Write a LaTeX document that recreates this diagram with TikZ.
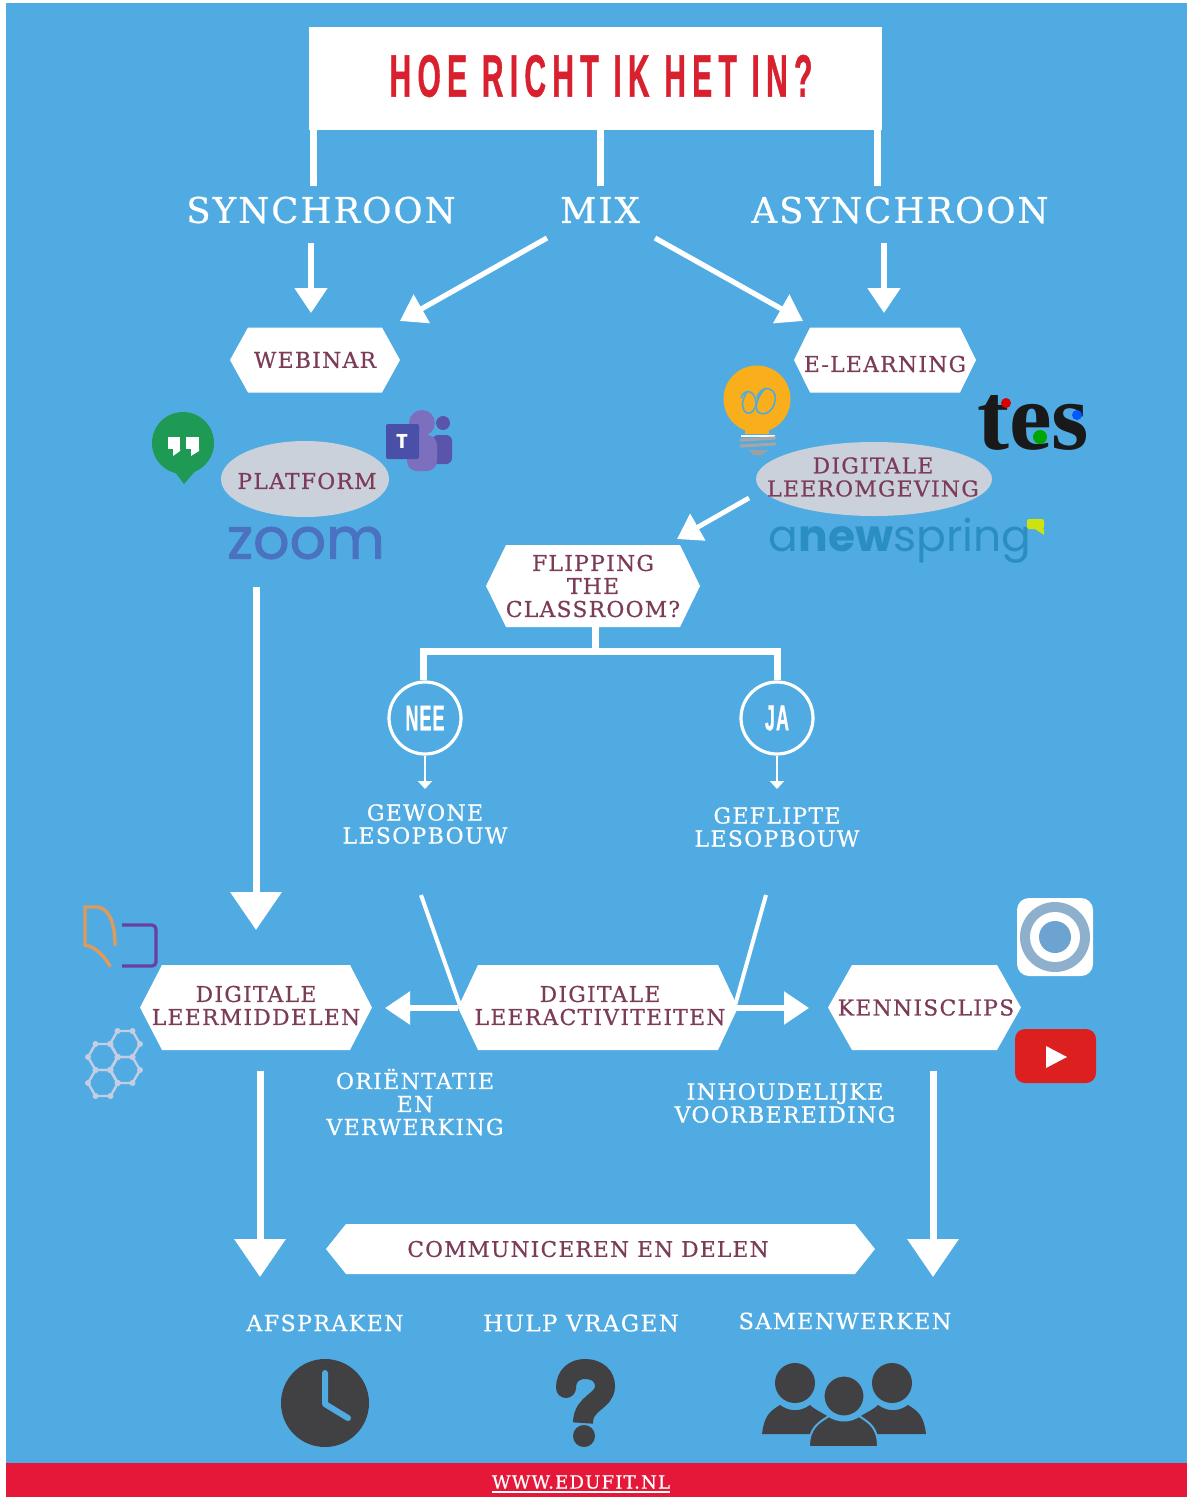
\documentclass[tikz,border=0pt]{standalone}
\usepackage{fontspec}
\usetikzlibrary{arrows.meta,calc}
\newfontfamily\slabf[LetterSpace=6,FakeBold=0.6]{DejaVu Serif}
\newfontfamily\condf[FakeStretch=0.5,LetterSpace=10.5,FakeBold=0.6]{Liberation Sans}
\newfontfamily\ringf[FakeStretch=0.5,LetterSpace=3,FakeBold=0.6]{Liberation Sans}
\newfontfamily\logof{Poppins}
\newfontfamily\zoomf[FakeBold=1.5]{Poppins}
\newfontfamily\tesf{Liberation Serif}
\definecolor{skyback}{HTML}{50ABE2}
\definecolor{redband}{HTML}{E5183A}
\definecolor{titlered}{HTML}{D8202F}
\definecolor{maroon}{HTML}{7C3B57}
\definecolor{ovalgrey}{HTML}{CBD1DB}
\definecolor{darkicon}{HTML}{414042}
\definecolor{hangout}{HTML}{1E9A55}
\definecolor{teamsA}{HTML}{4A4FA8}
\definecolor{teamsB}{HTML}{7B6FBE}
\definecolor{teamsC}{HTML}{5A55AB}
\definecolor{zoomblue}{HTML}{4A72C0}
\definecolor{nsblue}{HTML}{2A8FC0}
\definecolor{bulb}{HTML}{F9AE1B}
\definecolor{bookor}{HTML}{E09A5A}
\definecolor{bookpu}{HTML}{6A3FA0}
\definecolor{molec}{HTML}{C5CDE3}
\definecolor{irisring}{HTML}{8FB0CC}
\definecolor{irisdot}{HTML}{6CA3D0}
\definecolor{ytred}{HTML}{DC1F1F}
\newcommand{\slabsize}[2]{\slabf\fontsize{#1}{#2}\selectfont}
% name, cx, cy, half width, half height, inset, text, text dx, text dy
\newcommand{\hexbox}[9]{%
  \fill[white] (#2-#4,#3) -- (#2-#4+#6,#3-#5) -- (#2+#4-#6,#3-#5) -- (#2+#4,#3) -- (#2+#4-#6,#3+#5) -- (#2-#4+#6,#3+#5) -- cycle;
  \node[hextext] (#1) at (#2+#8,#3+#9) {#7};}
\newcommand{\molhex}[2]{%
  \draw[molec,line width=1.2pt] (#1-15,#2) -- (#1-7.5,#2-13) -- (#1+7.5,#2-13) -- (#1+15,#2) -- (#1+7.5,#2+13) -- (#1-7.5,#2+13) -- cycle;
  \foreach \mx/\my in {-15/0,-7.5/-13,7.5/-13,15/0,7.5/13,-7.5/13}{\fill[molec] (#1+\mx,#2+\my) circle [radius=3];}}
\tikzset{
  x=0.5pt,y=-0.5pt,
  hextext/.style={inner sep=0pt,align=center,text=maroon,font=\slabsize{10.9}{11.5}},
  bigtext/.style={inner sep=0pt,align=center,text=white,font=\slabsize{17.7}{20}},
  midtext/.style={inner sep=0pt,align=center,text=white,font=\slabsize{11}{11.5}},
  plainline/.style={draw=white,line width=3.5pt},
  thinline/.style={draw=white,line width=2pt},
  arrM/.style={draw=white,line width=2.6pt,-{Triangle[width=16pt,length=12.5pt,fill=white]}},
  arrL/.style={draw=white,line width=3.5pt,-{Triangle[width=25pt,length=19pt,fill=white]}},
  arrS/.style={draw=white,line width=1.3pt,-{Triangle[width=7pt,length=4pt,fill=white]}},
  ringnode/.style={circle,draw=white,line width=1.6pt,minimum size=36pt,inner sep=0pt,text=white,font=\ringf\bfseries\fontsize{18}{18}\selectfont},
}
\begin{document}
\begin{tikzpicture}
\useasboundingbox (0,0) rectangle (1187,1499);
\fill[white] (0,0) rectangle (1187,1499);
\fill[skyback] (6,3) rectangle (1187,1497);
\fill[redband] (6,1463) rectangle (1187,1497);

% title and first level
\node[fill=white,minimum width=286.5pt,minimum height=51.5pt,inner sep=0pt] (title) at (595.5,78.5) {};
\node[inner sep=0pt,text=titlered,font=\condf\bfseries\fontsize{30}{32}\selectfont] (titletext) at (601,76) {HOE RICHT IK HET IN?};
\node[bigtext] (syn) at (321,210) {SYNCHROON};
\node[bigtext] (mix) at (600,210) {MIX};
\node[bigtext] (asyn) at (900,210) {ASYNCHROON};
\draw[plainline] ($(title)+(-282.5,51)$) -- ($(syn)+(-8,-24)$);
\draw[plainline] ($(title)+(4.5,51)$) -- ($(mix)+(0,-24)$);
\draw[plainline] ($(title)+(281.5,51)$) -- ($(asyn)+(-23,-24)$);

\hexbox{web}{315}{360}{85}{32.5}{18}{WEBINAR}{0}{0}
\hexbox{elearn}{885}{360}{91}{32.5}{16}{E-LEARNING}{0}{4}
\draw[arrM] ($(syn)+(-10,33)$) -- ($(web)+(-4,-47)$);
\draw[arrM] ($(asyn)+(-16,33)$) -- ($(elearn)+(-1,-51)$);
\draw[arrM] ($(mix)+(-53,28)$) -- ($(web)+(85,-39)$);
\draw[arrM] ($(mix)+(55,28)$) -- ($(elearn)+(-82,-43)$);

% platform oval
\fill[ovalgrey] (305,479) ellipse [x radius=84,y radius=38];
\node[hextext] (platform) at (307,481) {PLATFORM};
% hangouts logo
\fill[hangout] (183,443) circle [radius=31];
\fill[hangout] (172,468) -- (198,468) -- (184,484) -- cycle;
\fill[white] (168,437) rectangle (180,449);
\fill[white] (173,449) -- (180,449) -- (180,451) -- (173,456) -- cycle;
\fill[white] (186,437) rectangle (199,449);
\fill[white] (191,449) -- (199,449) -- (199,451) -- (191,456) -- cycle;
% teams logo
\fill[teamsB] (422,423) circle [radius=13];
\fill[teamsC] (443,423) circle [radius=7];
\fill[teamsC,rounded corners=3pt] (432,435) rectangle (452,464);
\fill[teamsB,rounded corners=5pt] (407,435) rectangle (437,471);
\fill[teamsA,rounded corners=1pt] (386,424) rectangle (419,459);
\node[inner sep=0pt,text=white,font=\logof\bfseries\fontsize{10}{10}\selectfont] (teamsT) at (402,441) {T};
% zoom logo
\node[inner sep=0pt,text=zoomblue,font=\zoomf\fontsize{28.5}{29}\selectfont] (zoomlogo) at (306,543) {zoom};

% digitale leeromgeving oval
\fill[ovalgrey] (874,479) ellipse [x radius=118,y radius=37];
\node[hextext] (dlo) at (873,477) {DIGITALE\\LEEROMGEVING};
% bulb logo
\fill[bulb] (757,399) circle [radius=33.5];
\fill[bulb] (745,428) rectangle (769,434);
\draw[white,line width=1pt] (741,436) -- (775,436);
\draw[gray!70,line width=1.6pt,line cap=round] (741,440) -- (775,438);
\draw[gray!70,line width=1.6pt,line cap=round] (741,446) -- (775,444);
\fill[gray!75] (748,450) -- (768,450) -- (762,455) -- (754,455) -- cycle;
\draw[skyback,line width=0.8pt] (741,398) .. controls (744,388) and (755,390) .. (756,402) .. controls (757,412) and (746,418) .. (743,408) .. controls (741,402) and (745,394) .. (748,391);
\draw[skyback,line width=0.8pt] (757,398) .. controls (760,386) and (772,386) .. (775,395) .. controls (777,408) and (766,418) .. (758,412) .. controls (753,407) and (760,392) .. (766,388);
% tes logo
\node[inner sep=0pt,text=black!90,font=\tesf\bfseries\fontsize{48}{48}\selectfont] (teslogo) at (1033,423) {tes};
\fill[red!85!black] (1006,403) circle [radius=5];
\fill[blue!65!cyan] (1077,415) circle [radius=5];
\fill[green!65!black] (1040,437) circle [radius=7];
% newspring logo
\node[inner sep=0pt,text=nsblue,font=\logof\fontsize{22}{22}\selectfont] (nslogo) at (900,541) {a{\bfseries new}spring};
\fill[yellow!80!green,rounded corners=1pt] (1027,519) rectangle (1044,529);
\fill[yellow!80!green] (1035,529) -- (1044,529) -- (1044,535) -- cycle;

% flipping
\hexbox{flip}{593}{586}{107}{41}{20}{FLIPPING\\THE\\CLASSROOM?}{0}{0}
\draw[arrM,line width=2.4pt,-{Triangle[width=15pt,length=12pt,fill=white]}] ($(dlo)+(-124,21)$) -- ($(flip)+(84,-47)$);
\node[ringnode] (nee) at (425,718) {NEE};
\node[ringnode] (ja) at (777,718) {JA};
\draw[plainline] ($(flip)+(2,41)$) -- ($(flip)+(2,65)$);
\draw[plainline] ($(nee.north)+(-2,0)$) |- ($(flip)+(2,65)$) -| (ja.north);
\node[midtext] (gewone) at (425,824) {GEWONE\\LESOPBOUW};
\node[midtext] (geflipt) at (777,827) {GEFLIPTE\\LESOPBOUW};
\draw[arrS] (nee.south) -- ($(gewone)+(0,-35)$);
\draw[arrS] (ja.south) -- ($(geflipt)+(0,-38)$);

% bottom row of hexagons
\hexbox{dlm}{256}{1007.5}{116}{42.5}{22}{DIGITALE\\LEERMIDDELEN}{0}{-2}
\hexbox{dla}{598}{1007.5}{140}{42.5}{20}{DIGITALE\\LEERACTIVITEITEN}{2}{-2}
\hexbox{kenn}{924.5}{1007.5}{96.5}{42.5}{24}{KENNISCLIPS}{1.5}{0}
\draw[thinline] ($(gewone)+(-4,71)$) -- ($(dla)+(-140,0)$);
\draw[thinline] ($(geflipt)+(-11,68)$) -- ($(dla)+(135,0)$);
\draw[arrM,line width=2.8pt] ($(dla)+(-142,2.5)$) -- ($(dlm)+(129,2.5)$);
\draw[arrM,line width=2.8pt] ($(dla)+(135,2.5)$) -- ($(kenn)+(-117,0.5)$);
\draw[arrL] ($(zoomlogo)+(-50,44)$) -- ($(dlm)+(0,-75.5)$);

% book icon
\draw[bookor,line width=1.7pt,line cap=round] (110,966) .. controls (104,956) and (96,947) .. (85,945) -- (85,907) -- (98,907) .. controls (110,909) and (115,925) .. (115,945);
\draw[bookpu,line width=1.6pt,line join=round,rounded corners=2pt] (122,925) -- (156,925) -- (156,966) -- (122,966);
% molecule icon
\molhex{125}{1044}
\molhex{103}{1057}
\molhex{125}{1070}
\molhex{103}{1083}
% iris icon
\fill[white,rounded corners=6pt] (1017,898) rectangle (1093,976);
\fill[irisring] (1055,937) circle [radius=35];
\fill[white] (1055,937) circle [radius=25];
\fill[irisdot] (1055,937) circle [radius=16];
% youtube icon
\fill[ytred,rounded corners=5pt] (1015,1029) rectangle (1096,1083);
\fill[white] (1046,1046) -- (1067,1057) -- (1046,1068) -- cycle;

\node[midtext] (orient) at (415,1102) {ORIËNTATIE\\EN\\VERWERKING};
\node[midtext] (inhoud) at (785,1103) {INHOUDELIJKE\\VOORBEREIDING};

\hexbox{comm}{600.5}{1249}{274.5}{25}{20}{\phantom{X}}{0}{0}
\node[hextext,font=\slabsize{10.8}{11.5}] (commtext) at (588,1249) {COMMUNICEREN EN DELEN};
\draw[arrL] ($(dlm)+(4,65)$) -- ($(comm)+(-340.5,28)$);
\draw[arrL] ($(kenn)+(7,63)$) -- ($(comm)+(332.5,28)$);

\node[midtext,font=\slabsize{11.1}{12}] (afspr) at (325,1323) {AFSPRAKEN};
\node[midtext,font=\slabsize{11.5}{12}] (hulp) at (581,1323) {HULP VRAGEN};
\node[midtext,font=\slabsize{11.2}{12}] (samen) at (845,1321) {SAMENWERKEN};

% clock
\fill[darkicon] (325,1403) circle [radius=44];
\draw[skyback,line width=3pt,line cap=round,line join=round] (325,1373) -- (325,1404) -- (348,1418);
% question mark
\draw[darkicon,line width=10pt] (566,1388) .. controls (566,1375) and (575,1369) .. (585,1369) .. controls (598,1369) and (605,1377) .. (605,1386) .. controls (605,1402) and (583,1402) .. (583,1423);
\fill[darkicon] (566,1388) circle [radius=10];
\fill[darkicon] (584,1436) ellipse [x radius=11,y radius=11];
% people
\fill[darkicon] (795,1383) circle [radius=20];
\fill[darkicon] (892,1383) circle [radius=20];
\fill[darkicon] (762,1434) .. controls (764,1418) and (768,1412) .. (780,1405) .. controls (790,1412) and (800,1412) .. (810,1405) .. controls (815,1410) and (825,1414) .. (830,1418) -- (830,1434) -- cycle;
\fill[darkicon] (926,1434) .. controls (924,1418) and (920,1412) .. (908,1405) .. controls (898,1412) and (888,1412) .. (878,1405) .. controls (873,1410) and (863,1414) .. (858,1418) -- (858,1434) -- cycle;
\draw[skyback,line width=1pt,fill=darkicon] (844,1396) circle [radius=20.5];
\draw[skyback,line width=1pt,fill=darkicon] (809,1447) .. controls (809,1428) and (818,1423) .. (829,1416) .. controls (838,1422) and (850,1422) .. (859,1416) .. controls (870,1423) and (878,1428) .. (878,1447) -- cycle;

% footer
\node[inner sep=0pt,text=white,font=\slabf\fontsize{9.1}{10}\selectfont] (web2) at (581,1482) {WWW.EDUFIT.NL};
\draw[white,line width=0.7pt] ($(web2.south west)+(0,3)$) -- ($(web2.south east)+(0,3)$);
\end{tikzpicture}
\end{document}
